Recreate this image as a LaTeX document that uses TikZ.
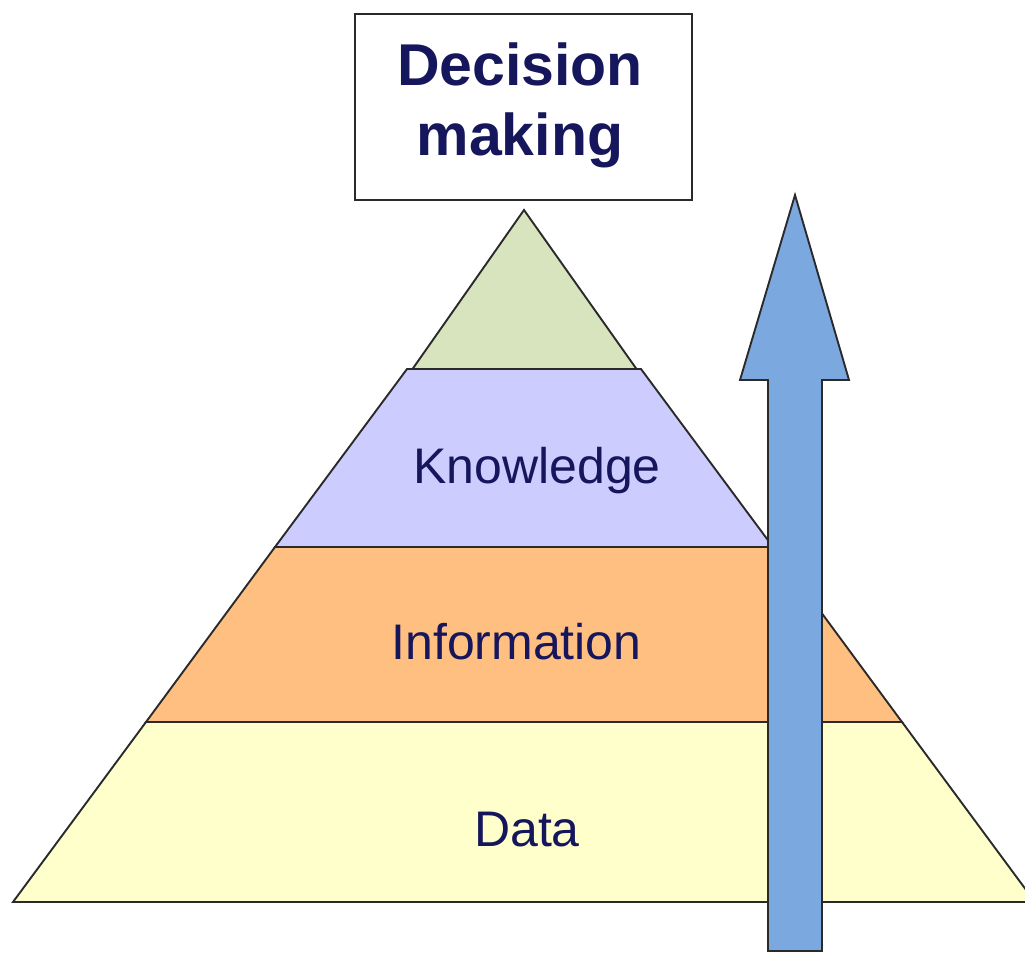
\documentclass[tikz,border=0pt]{standalone}
\usepackage{fontspec}
\setmainfont{Liberation Sans}
\definecolor{navy}{HTML}{16165C}
\definecolor{lgreen}{HTML}{D7E4BD}
\definecolor{lpurple}{HTML}{CCCCFF}
\definecolor{lorange}{HTML}{FFBF80}
\definecolor{lyellow}{HTML}{FFFFCC}
\definecolor{arrowblue}{HTML}{7CA8E0}
\definecolor{edge}{HTML}{2A2A2A}
\begin{document}
\begin{tikzpicture}[x=1pt,y=-1pt,
  band/.style={draw=edge,line width=1.9pt,line join=miter},
  lbl/.style={text=navy,font=\fontsize{50}{56}\selectfont,anchor=center,inner sep=0pt},
  dmbox/.style={draw=edge,line width=2pt,fill=white,minimum width=337pt,minimum height=186pt,inner sep=0pt}]
\useasboundingbox (0,0) rectangle (1025,954);
\begin{scope}
\clip (0,0) rectangle (1025,954);
% coordinates of the pyramid
\coordinate (apex) at (524,210);
\coordinate (g1) at (412.5,369); \coordinate (g2) at (636.5,369);
\coordinate (p1) at (407,369); \coordinate (p2) at (641,369);
\coordinate (p3) at (275,547); \coordinate (p4) at (773,547);
\coordinate (o3) at (146,722); \coordinate (o4) at (902,722);
\coordinate (y3) at (13,902); \coordinate (y4) at (1035,902);
\fill[lyellow] (o3) -- (o4) -- (y4) -- (y3) -- cycle;
\fill[lorange] (p3) -- (p4) -- (o4) -- (o3) -- cycle;
\fill[lpurple] (p1) -- (p2) -- (p4) -- (p3) -- cycle;
\fill[lgreen] (apex) -- (g2) -- (g1) -- cycle;
\draw[band] (apex) -- (g2) -- (g1) -- cycle;
\draw[band] (p1) -- (p2) -- (p4) -- (p3) -- cycle;
\draw[band] (p3) -- (p4) -- (o4) -- (o3) -- cycle;
\draw[band] (o3) -- (o4) -- (y4) -- (y3) -- cycle;
\end{scope}
% labels
\node[lbl] (know) at (537,471) {Knowledge};
\node[lbl] (info) at (516.5,642) {Information};
\node[lbl] (data) at (527,830) {Data};
% arrow
\coordinate (tip) at (795,195);
\coordinate (hr) at (849,380);
\coordinate (sr) at (822,380);
\coordinate (br) at (822,951);
\coordinate (bl) at (768,951);
\coordinate (sl) at (768,380);
\coordinate (hl) at (740,380);
\draw[draw=edge,line width=1.9pt,fill=arrowblue,line join=miter]
  (tip) -- (hr) -- (sr) -- (br) -- (bl) -- (sl) -- (hl) -- cycle;
% decision box
\node[dmbox] (dm) at (523.5,107) {};
\node[text=navy,font=\bfseries\fontsize{59}{70}\selectfont,align=center,inner sep=0pt,anchor=base] (dmtxt) at (520,155) {Decision\\making};
\end{tikzpicture}
\end{document}
